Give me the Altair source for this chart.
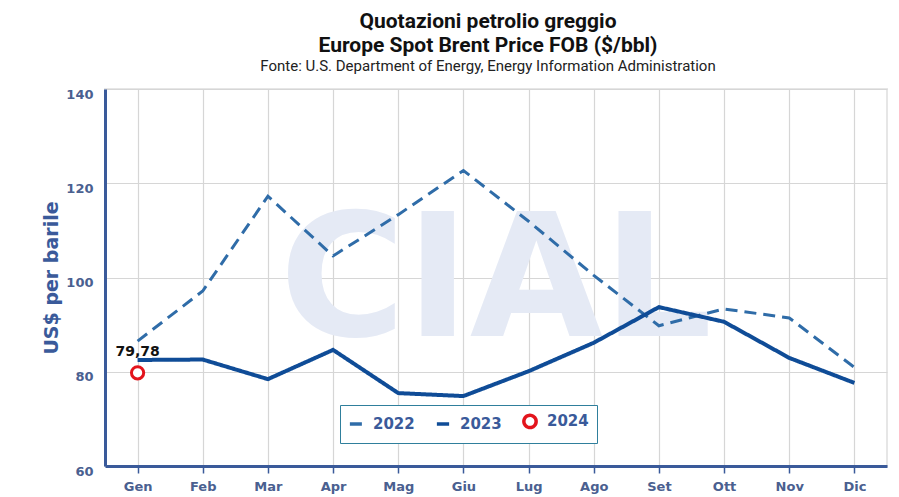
import altair as alt
import pandas as pd

months = ["Gen", "Feb", "Mar", "Apr", "Mag", "Giu", "Lug", "Ago", "Set", "Ott", "Nov", "Dic"]
v2022 = [86.51, 97.13, 117.25, 104.58, 113.34, 122.71, 111.93, 100.45, 89.76, 93.33, 91.42, 80.92]
v2023 = [82.50, 82.59, 78.43, 84.64, 75.47, 74.84, 80.11, 86.15, 93.72, 90.60, 82.94, 77.63]
m2024 = ["Gen"]
v2024 = [79.78]
lbl2024 = ["79,78"]

years = ["2022", "2023", "2024"]
colors = ["#2f6ca8", "#0f4c97", "#e3141c"]

rows = []
for m, v in zip(months, v2022):
    rows.append({"mese": m, "valore": v, "anno": "2022"})
for m, v in zip(months, v2023):
    rows.append({"mese": m, "valore": v, "anno": "2023"})
lines_df = pd.DataFrame(rows)
pt_df = pd.DataFrame({"mese": m2024, "valore": v2024, "anno": "2024", "lbl": lbl2024})

W, H = 782, 377
axis_blue = "#3a5a9a"
label_blue = "#4a6090"

x_enc = alt.X("mese:N", sort=months, scale=alt.Scale(type="point", padding=0.5, domain=months),
              axis=alt.Axis(title=None, labelAngle=0, grid=True, ticks=True, tickSize=7,
                            tickColor=axis_blue, tickWidth=1.5, domainColor=axis_blue,
                            domainWidth=3, labelPadding=7, labelFontSize=13,
                            labelFont="DejaVu Sans", labelFontWeight="bold", labelColor=label_blue))
y_enc = alt.Y("valore:Q", scale=alt.Scale(domain=[60, 140], nice=False),
              axis=alt.Axis(values=[60, 80, 100, 120, 140], ticks=False, grid=True,
                            domainColor=axis_blue, domainWidth=3, labelPadding=12,
                            labelOffset=5, labelFontSize=13, labelFont="DejaVu Sans",
                            labelFontWeight="bold", labelColor=label_blue,
                            title="US$ per barile", titleFont="DejaVu Sans", titleFontSize=19,
                            titleFontWeight="bold", titleColor=axis_blue, titlePadding=4))

color_enc = alt.Color("anno:N", scale=alt.Scale(domain=years, range=colors),
                      legend=alt.Legend(title=None, orient="none", legendX=235, legendY=316,
                                        direction="horizontal", strokeColor="#2f7f9c",
                                        fillColor="white", padding=8, columnPadding=14,
                                        labelFont="DejaVu Sans", labelFontSize=15,
                                        labelFontWeight="bold", labelColor=axis_blue,
                                        symbolStrokeWidth=3.5, symbolSize=150, labelOffset=9))
dash_enc = alt.StrokeDash("anno:N", scale=alt.Scale(domain=years, range=[[12, 7], [1, 0], [1, 0]]),
                          legend=alt.Legend(title=None))
shape_enc = alt.Shape("anno:N", scale=alt.Scale(domain=years, range=["stroke", "stroke", "circle"]),
                      legend=alt.Legend(title=None))

watermark = alt.Chart(pd.DataFrame({"t": ["CIAL"]})).mark_text(
    font="DejaVu Sans", fontWeight="bold", fontSize=172, color="#e5eaf5",
    baseline="middle", align="center"
).encode(x=alt.value(W / 2), y=alt.value(H / 2 + 6), text="t:N")

base = alt.Chart(lines_df)
line22 = base.transform_filter(alt.datum.anno == "2022").mark_line(strokeWidth=3).encode(
    x=x_enc, y=y_enc, color=color_enc, strokeDash=dash_enc)
line23 = base.transform_filter(alt.datum.anno == "2023").mark_line(strokeWidth=4).encode(
    x=x_enc, y=y_enc, color=color_enc, strokeDash=dash_enc)
pts = alt.Chart(pt_df).mark_point(filled=False, fill="white", strokeWidth=3, size=150, opacity=1).encode(
    x=x_enc, y=y_enc, color=color_enc, shape=shape_enc)
txt = alt.Chart(pt_df).mark_text(font="DejaVu Sans", fontWeight="bold", fontSize=14,
                                 color="#111111", dy=-21, align="center").encode(
    x=x_enc, y=y_enc, text="lbl:N")

chart = alt.layer(watermark, line22, line23, pts, txt).properties(
    width=W, height=H,
    autosize=alt.AutoSizeParams(type="none"),
    padding={"left": 97, "top": 81, "right": 4, "bottom": 30},
    background="white",
    title=alt.TitleParams(
        text=["Quotazioni petrolio greggio", "Europe Spot Brent Price FOB ($/bbl)"],
        subtitle="Fonte: U.S. Department of Energy, Energy Information Administration",
        font="Roboto", fontSize=21, fontWeight="bold", color="#111111", lineHeight=24,
        subtitleFont="Roboto", subtitleFontSize=15, subtitleColor="#222222",
        subtitlePadding=3, anchor="middle", offset=14, dx=-8
    )
).configure_view(stroke="#e6e6e6", strokeWidth=2).configure_axis(gridColor="#d6d6d6", gridWidth=1.2)

chart.save("out.html", embed_options={"renderer": "svg", "actions": False})
